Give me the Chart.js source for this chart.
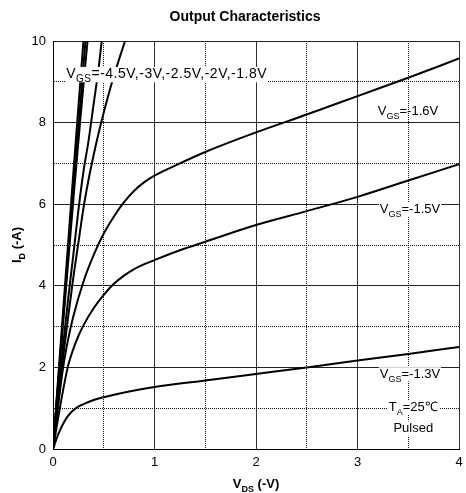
<!DOCTYPE html>
<html>
<head>
<meta charset="utf-8">
<script src="https://cdn.jsdelivr.net/npm/chart.js@4/dist/chart.umd.min.js"></script>
<style>
    html, body { margin: 0; padding: 0; background: #fff; }
    #wrap { width: 466px; height: 493px; position: relative; }
</style>
</head>
<body>
<div id="wrap"><canvas id="output_char"></canvas></div>
<script>
// V_DS (-V) / I_D (-A) per gate voltage
const vds45 = [0, 0.1, 0.2, 0.3];
const id45 = [0, 3.4, 6.75, 10];
const vds30 = [0, 0.1, 0.2, 0.32];
const id30 = [0, 3.2, 6.35, 10];
const vds25 = [0, 0.1, 0.2, 0.27, 0.34];
const id25 = [0, 3.1, 6.1, 8.1, 10];
const vds20 = [0, 0.05, 0.1, 0.15, 0.2, 0.25, 0.3, 0.35, 0.4, 0.45, 0.48];
const id20 = [0, 1.3, 2.55, 3.7, 4.75, 5.85, 6.8, 7.55, 8.45, 9.35, 10];
const vds18 = [0, 0.05, 0.1, 0.15, 0.2, 0.25, 0.3, 0.35, 0.4, 0.45, 0.5, 0.6, 0.71];
const id18 = [0, 1.15, 2.25, 3.25, 4.2, 5.05, 5.9, 6.6, 7.2, 7.75, 8.25, 9.15, 10];
const vds16 = [0, 0.05, 0.1, 0.15, 0.2, 0.3, 0.4, 0.5, 0.6, 0.7, 0.8, 0.9, 1, 1.25, 1.5, 2, 2.5, 3, 3.5, 4];
const id16 = [0, 1.05, 2.0, 2.7, 3.25, 4.1, 4.75, 5.28, 5.7, 6.05, 6.33, 6.54, 6.7, 7.0, 7.28, 7.76, 8.2, 8.65, 9.1, 9.57];
const vds15 = [0, 0.05, 0.1, 0.15, 0.2, 0.25, 0.3, 0.4, 0.5, 0.6, 0.7, 0.8, 0.9, 1, 1.25, 1.5, 2, 2.5, 3, 3.5, 4];
const id15 = [0, 0.75, 1.45, 2.05, 2.45, 2.77, 3.03, 3.45, 3.78, 4.05, 4.25, 4.41, 4.53, 4.63, 4.87, 5.08, 5.49, 5.83, 6.18, 6.58, 6.98];
const vds13 = [0, 0.05, 0.1, 0.15, 0.2, 0.25, 0.3, 0.4, 0.5, 0.75, 1, 1.5, 2, 2.5, 3, 3.5, 4];
const id13 = [0, 0.35, 0.62, 0.82, 0.95, 1.04, 1.1, 1.2, 1.27, 1.41, 1.52, 1.68, 1.84, 2.0, 2.17, 2.33, 2.5];

const xTicks = [0, 1, 2, 3, 4];
const yTicks = [0, 2, 4, 6, 8, 10];

const FONT = '"Liberation Sans", Arial, sans-serif';

function toPoints(xs, ys) {
    return xs.map((x, i) => ({ x: x, y: ys[i] }));
}

function curve(label, xs, ys) {
    return {
        label: label,
        data: toPoints(xs, ys),
        borderColor: '#000',
        borderWidth: 2,
        pointRadius: 0,
        fill: false,
        cubicInterpolationMode: 'monotone',
    };
}

// text with subscripts, parts = [[text, isSub], ...]
function richWidth(ctx, parts, size, weight) {
    let w = 0;
    parts.forEach(p => {
        ctx.font = weight + ' ' + (p[1] ? Math.round(size * 0.72) : size) + 'px ' + FONT;
        w += ctx.measureText(p[0]).width;
    });
    return w;
}

function drawRich(ctx, parts, x, y, size, weight, align, bg) {
    const w = richWidth(ctx, parts, size, weight);
    let cx = align === 'center' ? x - w / 2 : x;
    if (bg) {
        ctx.fillStyle = '#fff';
        ctx.fillRect(cx - 1, y - size * 0.8, w + 2, size * 1.1);
    }
    ctx.fillStyle = '#000';
    ctx.textAlign = 'left';
    ctx.textBaseline = 'alphabetic';
    parts.forEach(p => {
        ctx.font = weight + ' ' + (p[1] ? Math.round(size * 0.72) : size) + 'px ' + FONT;
        ctx.fillText(p[0], cx, p[1] ? y + size * 0.3 : y);
        cx += ctx.measureText(p[0]).width;
    });
}

const textPlugin = {
    id: 'chartTexts',
    afterDraw(chart) {
        const ctx = chart.ctx;
        const sx = chart.scales.x;
        const sy = chart.scales.y;
        const area = chart.chartArea;
        ctx.save();

        ctx.font = 'bold 14px ' + FONT;
        ctx.fillStyle = '#000';
        ctx.textAlign = 'center';
        ctx.fillText('Output Characteristics', 245, 21);

        drawRich(ctx, [['V', 0], ['DS', 1], [' (-V)', 0]], (area.left + area.right) / 2, 488, 13, 'bold', 'center', false);

        ctx.save();
        ctx.translate(21, (area.top + area.bottom) / 2);
        ctx.rotate(-Math.PI / 2);
        drawRich(ctx, [['I', 0], ['D', 1], [' (-A)', 0]], 0, 0, 13, 'bold', 'center', false);
        ctx.restore();

        ctx.letterSpacing = '0.5px';
        drawRich(ctx, [['V', 0], ['GS', 1], ['=-4.5V,-3V,-2.5V,-2V,-1.8V', 0]], sx.getPixelForValue(0.13), sy.getPixelForValue(9.09), 14, 'normal', 'left', true);
        ctx.letterSpacing = '0px';
        drawRich(ctx, [['V', 0], ['GS', 1], ['=-1.6V', 0]], sx.getPixelForValue(3.2), sy.getPixelForValue(8.18), 13, 'normal', 'left', false);
        drawRich(ctx, [['V', 0], ['GS', 1], ['=-1.5V', 0]], sx.getPixelForValue(3.22), sy.getPixelForValue(5.78), 13, 'normal', 'left', true);
        drawRich(ctx, [['V', 0], ['GS', 1], ['=-1.3V', 0]], sx.getPixelForValue(3.22), sy.getPixelForValue(1.75), 13, 'normal', 'left', true);
        drawRich(ctx, [['T', 0], ['A', 1], ['=25\u2103', 0]], sx.getPixelForValue(3.55), sy.getPixelForValue(0.94), 13, 'normal', 'center', true);
        drawRich(ctx, [['Pulsed', 0]], sx.getPixelForValue(3.55), sy.getPixelForValue(0.42), 13, 'normal', 'center', true);

        ctx.restore();
    }
};

const isMajor = (ctx, list) => ctx.tick && list.includes(ctx.tick.value);

const config = {
    type: 'line',
    data: {
        datasets: [
            curve('-4.5V', vds45, id45),
            curve('-3V', vds30, id30),
            curve('-2.5V', vds25, id25),
            curve('-2V', vds20, id20),
            curve('-1.8V', vds18, id18),
            curve('-1.6V', vds16, id16),
            curve('-1.5V', vds15, id15),
            curve('-1.3V', vds13, id13),
        ],
    },
    options: {
        responsive: true,
        maintainAspectRatio: false,
        animation: false,
        devicePixelRatio: 1,
        layout: { padding: { top: 41, right: 7, left: 0, bottom: 0 } },
        plugins: {
            legend: { display: false },
            tooltip: { enabled: false },
        },
        scales: {
            x: {
                type: 'linear',
                min: 0,
                max: 4,
                afterFit: s => {
                    s.height = 44;
                    s.paddingLeft = 0;
                    s.paddingRight = 0;
                },
                ticks: {
                    stepSize: 0.5,
                    autoSkip: false,
                    maxRotation: 0,
                    padding: 6,
                    color: '#000',
                    font: { family: FONT, size: 13 },
                    callback: v => xTicks.includes(v) ? v : '',
                },
                grid: {
                    drawTicks: false,
                    lineWidth: 1,
                    color: ctx => isMajor(ctx, xTicks) ? '#333' : '#111',
                },
                border: {
                    color: '#000',
                    width: 1,
                    dash: ctx => (ctx.tick && !xTicks.includes(ctx.tick.value)) ? [1, 1] : [],
                },
            },
            y: {
                type: 'linear',
                min: 0,
                max: 10,
                afterFit: s => {
                    s.width = 53;
                    s.paddingTop = 0;
                    s.paddingBottom = 0;
                },
                ticks: {
                    stepSize: 1,
                    autoSkip: false,
                    padding: 7,
                    color: '#000',
                    font: { family: FONT, size: 13 },
                    callback: v => yTicks.includes(v) ? v : '',
                },
                grid: {
                    drawTicks: false,
                    lineWidth: 1,
                    color: ctx => isMajor(ctx, yTicks) ? '#222' : '#111',
                },
                border: {
                    color: '#000',
                    width: 1,
                    dash: ctx => (ctx.tick && !yTicks.includes(ctx.tick.value)) ? [1, 1] : [],
                },
            },
        },
    },
    plugins: [textPlugin],
};

new Chart(document.getElementById('output_char').getContext('2d'), config);
</script>
</body>
</html>
